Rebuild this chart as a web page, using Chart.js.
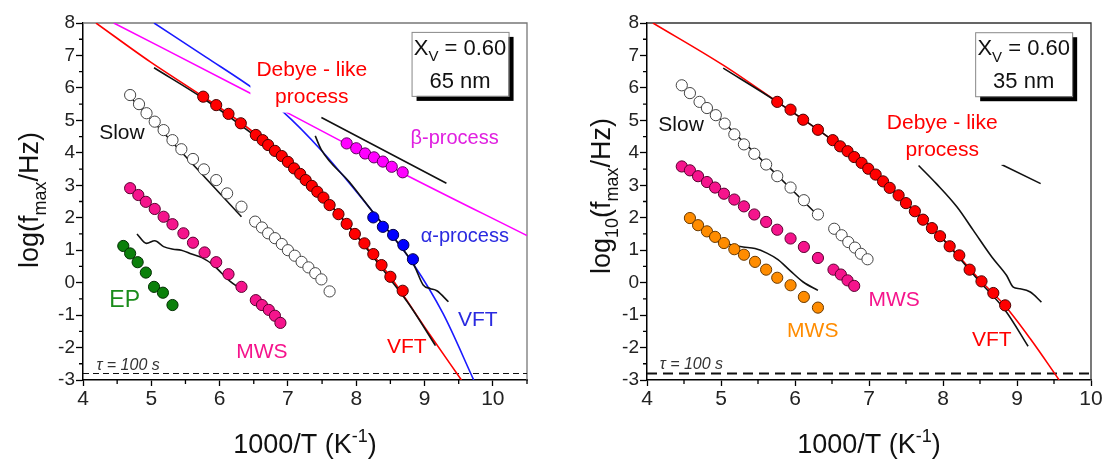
<!DOCTYPE html>
<html>
<head>
<meta charset="utf-8">
<script src="https://cdn.jsdelivr.net/npm/chart.js@4.4.0/dist/chart.umd.min.js"></script>
<style>
  body { margin: 0; background: #fff; }
  #wrap { position: relative; width: 1106px; height: 461px; }
  .panel { position: absolute; top: 0; width: 553px; height: 461px; }
  #p65 { left: 0; }
  #p35 { left: 553px; }
</style>
</head>
<body>
<div id="wrap">
  <div class="panel" id="p65"><canvas id="chart65"></canvas></div>
  <div class="panel" id="p35"><canvas id="chart35"></canvas></div>
</div>
<script>
// ---------- common ----------
const xTicks = [4, 5, 6, 7, 8, 9, 10];
const yTicks = [-3, -2, -1, 0, 1, 2, 3, 4, 5, 6, 7, 8];
const tauLevel = -2.8; // log f for tau = 100 s

// ---------- 65 nm film : measured peaks (1000/T, log f) ----------
const debyeT65 = [5.76, 5.95, 6.13, 6.31, 6.53, 6.63, 6.71, 6.81, 6.91, 7.00, 7.09, 7.18, 7.26, 7.35, 7.43, 7.52, 7.61, 7.74, 7.86, 7.98, 8.12, 8.25, 8.37, 8.50, 8.68];
const debyeF65 = [5.73, 5.47, 5.20, 4.91, 4.55, 4.39, 4.24, 4.06, 3.90, 3.72, 3.52, 3.35, 3.16, 2.98, 2.80, 2.62, 2.39, 2.11, 1.81, 1.50, 1.21, 0.88, 0.54, 0.18, -0.25];
const alphaT65 = [8.25, 8.39, 8.54, 8.69, 8.83];
const alphaF65 = [2.01, 1.72, 1.47, 1.16, 0.72];
const betaT65 = [7.86, 8.00, 8.13, 8.26, 8.39, 8.52, 8.68];
const betaF65 = [4.29, 4.14, 3.98, 3.86, 3.73, 3.57, 3.40];
const slowT65 = [4.69, 4.82, 4.93, 5.05, 5.18, 5.31, 5.44, 5.61, 5.77, 5.95, 6.11, 6.32, 6.52, 6.62, 6.71, 6.81, 6.91, 7.00, 7.10, 7.20, 7.30, 7.40, 7.49, 7.61];
const slowF65 = [5.78, 5.50, 5.22, 4.96, 4.70, 4.39, 4.11, 3.81, 3.49, 3.16, 2.75, 2.34, 1.88, 1.70, 1.52, 1.37, 1.19, 1.00, 0.83, 0.64, 0.47, 0.29, 0.10, -0.27];
const mwsT65 = [4.69, 4.81, 4.92, 5.05, 5.18, 5.31, 5.47, 5.61, 5.78, 5.95, 6.13, 6.32, 6.53, 6.62, 6.72, 6.81, 6.89];
const mwsF65 = [2.91, 2.70, 2.49, 2.27, 2.03, 1.80, 1.52, 1.23, 0.93, 0.63, 0.26, -0.13, -0.54, -0.69, -0.84, -1.02, -1.24];
const epT65 = [4.59, 4.69, 4.80, 4.92, 5.04, 5.17, 5.31];
const epF65 = [1.13, 0.90, 0.63, 0.31, -0.13, -0.31, -0.69];

// 65 nm : VFT / Arrhenius curves
const vftDebyeT65 = [4.19, 4.98, 5.71, 6.30, 6.90, 7.50, 8.00, 8.50, 9.03, 9.54];
const vftDebyeF65 = [8.00, 6.81, 5.80, 4.95, 3.92, 2.68, 1.47, 0.18, -1.46, -3.00];
const vftAlphaT65 = [5.04, 5.80, 6.52, 6.91, 7.50, 8.22, 8.83, 9.27, 9.72];
const vftAlphaF65 = [8.00, 6.95, 5.94, 5.30, 4.05, 2.24, 0.59, -0.95, -3.00];
const arrBetaT65 = [4.45, 6.52, 6.96, 8.70, 10.5];
const arrBetaF65 = [8.00, 5.76, 5.27, 3.35, 1.45];

// 65 nm : black reference lines
const refDebyeT65 = [5.04, 5.80, 6.50, 7.00, 7.50, 8.00, 8.50, 8.80, 9.16];
const refDebyeF65 = [6.62, 5.62, 4.55, 3.72, 2.68, 1.45, 0.10, -0.75, -1.94];
const refAlphaT65 = [7.40, 7.49, 7.90, 8.30, 8.60, 8.85, 8.98, 9.08, 9.18, 9.35];
const refAlphaF65 = [4.52, 4.09, 3.10, 2.02, 1.25, 0.52, -0.07, -0.18, -0.25, -0.59];
const refBetaT65 = [7.49, 9.32];
const refBetaF65 = [5.09, 3.06];
const refSlowT65 = [4.69, 6.32];
const refSlowF65 = [5.73, 2.03];
const refMwsT65 = [4.79, 4.93, 5.05, 5.18, 5.32, 5.44, 5.59, 5.74, 5.91, 6.03, 6.15, 6.30];
const refMwsF65 = [1.50, 1.21, 1.29, 1.11, 1.03, 1.00, 0.88, 0.77, 0.54, 0.29, 0.05, -0.18];

// ---------- 35 nm film ----------
const debyeT35 = [5.76, 5.94, 6.11, 6.31, 6.51, 6.61, 6.71, 6.80, 6.90, 6.99, 7.09, 7.19, 7.28, 7.40, 7.50, 7.62, 7.73, 7.85, 7.96, 8.09, 8.22, 8.36, 8.52, 8.68, 8.84];
const debyeF35 = [5.57, 5.33, 5.02, 4.71, 4.39, 4.20, 4.05, 3.87, 3.69, 3.51, 3.33, 3.12, 2.92, 2.69, 2.45, 2.20, 1.94, 1.68, 1.43, 1.12, 0.84, 0.40, 0.04, -0.32, -0.70];
const slowT35 = [4.47, 4.58, 4.71, 4.81, 4.93, 5.05, 5.18, 5.31, 5.45, 5.61, 5.76, 5.94, 6.12, 6.31, 6.53, 6.63, 6.72, 6.81, 6.89, 6.98];
const slowF35 = [6.08, 5.84, 5.57, 5.38, 5.16, 4.90, 4.57, 4.26, 3.97, 3.64, 3.28, 2.93, 2.54, 2.10, 1.66, 1.46, 1.25, 1.08, 0.89, 0.72];
const mwsT35 = [4.47, 4.58, 4.69, 4.81, 4.92, 5.04, 5.18, 5.31, 5.45, 5.61, 5.76, 5.94, 6.12, 6.31, 6.52, 6.62, 6.71, 6.80];
const mwsF35 = [3.58, 3.46, 3.28, 3.10, 2.93, 2.74, 2.56, 2.35, 2.10, 1.87, 1.63, 1.36, 1.10, 0.76, 0.40, 0.25, 0.07, -0.10];
const mws2T35 = [4.58, 4.69, 4.81, 4.92, 5.04, 5.18, 5.31, 5.46, 5.61, 5.76, 5.94, 6.12, 6.31];
const mws2F35 = [1.99, 1.77, 1.58, 1.41, 1.22, 1.03, 0.86, 0.64, 0.40, 0.15, -0.08, -0.44, -0.77];

const vftDebyeT35 = [4.08, 5.03, 5.76, 6.50, 7.00, 7.50, 8.00, 8.50, 8.84, 9.18, 9.57];
const vftDebyeF35 = [8.00, 6.70, 5.57, 4.40, 3.50, 2.45, 1.35, 0.08, -0.72, -1.73, -3.00];

const refDebyeT35 = [5.03, 5.76, 6.50, 7.00, 7.50, 8.00, 8.50, 8.84, 9.15];
const refDebyeF35 = [6.61, 5.57, 4.40, 3.50, 2.45, 1.33, 0.02, -0.85, -1.96];
const refAlphaT35 = [7.67, 7.91, 8.19, 8.41, 8.66, 8.86, 8.95, 9.04, 9.18, 9.33];
const refAlphaF35 = [3.61, 3.05, 2.33, 1.61, 0.79, 0.22, -0.14, -0.19, -0.29, -0.60];
const refBetaT35 = [8.79, 9.32];
const refBetaF35 = [3.64, 3.05];
const refSlowT35 = [4.69, 6.31];
const refSlowF35 = [5.72, 2.07];
const refMwsT35 = [4.81, 4.92, 5.05, 5.17, 5.30, 5.46, 5.62, 5.77, 5.93, 6.11, 6.31];
const refMwsF35 = [1.48, 1.30, 1.22, 1.15, 1.10, 1.05, 0.91, 0.71, 0.38, 0.02, -0.24];

// ---------- helpers ----------
const FONT = '"Liberation Sans", Arial, sans-serif';
const RED = '#ff0000', PINK = '#f5148c', GREEN = '#0b800b', BLUE = '#0000ff',
      MAGENTA = '#ff00ff', ORANGE = '#ff8c00', INK = '#111';

const pts = (xs, ys) => xs.map((x, i) => ({ x, y: ys[i] }));

function marks(xs, ys, fill, edge) {
  return {
    data: pts(xs, ys), showLine: false, order: 1,
    pointRadius: 5.6, pointBackgroundColor: fill, pointBorderColor: edge, pointBorderWidth: 1
  };
}

function curve(xs, ys, color, width, dash) {
  return {
    data: pts(xs, ys), showLine: true, order: 2, pointRadius: 0, fill: false,
    borderColor: color, borderWidth: width || 1.6, borderDash: dash || [],
    cubicInterpolationMode: 'monotone'
  };
}

// draws text made of [text, 'sub'|'sup'] pieces, centred on x, baseline y
function drawRich(ctx, parts, x, y, size, color) {
  const small = Math.round(size * 0.66);
  let total = 0;
  const widths = parts.map(([t, k]) => {
    ctx.font = (k ? small : size) + 'px ' + FONT;
    const w = ctx.measureText(t).width;
    total += w;
    return w;
  });
  let cx = x - total / 2;
  ctx.fillStyle = color;
  ctx.textAlign = 'left';
  ctx.textBaseline = 'alphabetic';
  parts.forEach(([t, k], i) => {
    ctx.font = (k ? small : size) + 'px ' + FONT;
    const dy = k === 'sub' ? size * 0.3 : k === 'sup' ? -size * 0.4 : 0;
    ctx.fillText(t, cx, y + dy);
    cx += widths[i];
  });
}

function figurePlugin(cfg) {
  return {
    id: 'figure',
    beforeDatasetsDraw(chart) {
      const { ctx, chartArea: a } = chart;
      ctx.save();
      ctx.strokeStyle = cfg.frameColor;
      ctx.lineWidth = 1.3;
      ctx.beginPath();
      ctx.moveTo(a.left, a.top);
      ctx.lineTo(a.right, a.top);
      ctx.lineTo(a.right, a.bottom);
      ctx.stroke();
      ctx.restore();
    },
    afterDatasetsDraw(chart) {
      const { ctx } = chart;
      const xs = chart.scales.x, ys = chart.scales.y;
      ctx.save();
      cfg.notes.forEach(n => {
        const px = xs.getPixelForValue(n.x), py = ys.getPixelForValue(n.y);
        ctx.font = (n.italic ? 'italic ' : '') + n.size + 'px ' + FONT;
        const lh = n.size * 1.29;
        if (n.bg) {
          const w = Math.max(...n.lines.map(t => ctx.measureText(t).width)) + 12;
          const h = n.lines.length * lh + 3;
          ctx.fillStyle = '#fff';
          ctx.fillRect(px - w / 2, py - h / 2, w, h);
        }
        ctx.fillStyle = n.color;
        ctx.textAlign = 'center';
        ctx.textBaseline = 'middle';
        n.lines.forEach((t, i) => ctx.fillText(t, px, py + (i - (n.lines.length - 1) / 2) * lh));
      });

      // composition / thickness box with drop shadow
      const b = cfg.box;
      const bx = xs.getPixelForValue(b.x) - 48.5, by = ys.getPixelForValue(b.y) - 32;
      ctx.fillStyle = '#000';
      ctx.fillRect(bx + 5, by + 5, 97, 64);
      ctx.fillStyle = '#fff';
      ctx.fillRect(bx, by, 97, 64);
      ctx.strokeStyle = '#888';
      ctx.lineWidth = 1;
      ctx.strokeRect(bx + 0.5, by + 0.5, 97, 64);
      drawRich(ctx, [['X'], ['V', 'sub'], [' = 0.60']], bx + 48.5, by + 23, 22, INK);
      drawRich(ctx, [[b.label]], bx + 48.5, by + 56, 22, INK);
      ctx.restore();
    },
    afterDraw(chart) {
      const { ctx, chartArea: a } = chart;
      const xs = chart.scales.x, ys = chart.scales.y;
      ctx.save();
      // minor ticks
      ctx.strokeStyle = '#000';
      ctx.lineWidth = 1.3;
      ctx.beginPath();
      for (let i = 9; i <= cfg.xMax * 2; i += 2) {
        const p = xs.getPixelForValue(i / 2);
        ctx.moveTo(p, a.bottom);
        ctx.lineTo(p, a.bottom + 4);
      }
      for (let i = -5; i < 16; i += 2) {
        const p = ys.getPixelForValue(i / 2);
        ctx.moveTo(a.left, p);
        ctx.lineTo(a.left - 4, p);
      }
      ctx.stroke();

      // axis titles
      drawRich(ctx, [['1000/T (K'], ['-1', 'sup'], [')']], (a.left + a.right) / 2, 453, 27, INK);
      ctx.translate(cfg.yTitleX, cfg.yTitleY);
      ctx.rotate(-Math.PI / 2);
      drawRich(ctx, cfg.yTitle, 0, 0, 27, INK);
      ctx.restore();
    }
  };
}

function buildPanel(id, cfg) {
  return new Chart(document.getElementById(id), {
    type: 'line',
    data: { datasets: cfg.datasets },
    options: {
      animation: false,
      responsive: true,
      maintainAspectRatio: false,
      devicePixelRatio: 1,
      layout: { padding: { top: 23, right: cfg.padRight, left: 0, bottom: 0 } },
      plugins: { legend: { display: false }, tooltip: { enabled: false } },
      scales: {
        x: {
          type: 'linear', min: 4, max: cfg.xMax,
          afterBuildTicks: s => { s.ticks = xTicks.map(v => ({ value: v })); },
          afterFit: s => { s.height = 81; },
          grid: { drawOnChartArea: false, tickLength: 6, tickColor: '#000', tickWidth: 1.3 },
          border: { color: '#000', width: 1.5 },
          ticks: { color: '#222', padding: 1, maxRotation: 0, font: { family: FONT, size: 21 } }
        },
        y: {
          type: 'linear', min: -3, max: 8,
          afterBuildTicks: s => { s.ticks = yTicks.map(v => ({ value: v })); },
          afterFit: s => { s.width = cfg.yWidth; },
          grid: { drawOnChartArea: false, tickLength: 7, tickColor: '#000', tickWidth: 1.3 },
          border: { color: '#000', width: 1.5 },
          ticks: { color: '#222', padding: 1, font: { family: FONT, size: 19 } }
        }
      }
    },
    plugins: [figurePlugin(cfg)]
  });
}

// ---------- left panel: 65 nm ----------
buildPanel('chart65', {
  xMax: 10.5, padRight: 26, yWidth: 83, frameColor: '#777',
  yTitle: [['log(f'], ['max', 'sub'], ['/Hz)']], yTitleX: 38, yTitleY: 200,
  box: { x: 9.52, y: 6.74, label: '65 nm' },
  datasets: [
    marks(debyeT65, debyeF65, RED, '#4a0000'),
    marks(alphaT65, alphaF65, BLUE, '#00004a'),
    marks(betaT65, betaF65, MAGENTA, '#5a005a'),
    marks(slowT65, slowF65, '#fff', '#444'),
    marks(mwsT65, mwsF65, PINK, '#5a0030'),
    marks(epT65, epF65, GREEN, '#033003'),
    curve(refDebyeT65, refDebyeF65, INK),
    curve(refAlphaT65, refAlphaF65, INK),
    curve(refBetaT65, refBetaF65, INK),
    curve(refSlowT65, refSlowF65, INK),
    curve(refMwsT65, refMwsF65, INK),
    curve(vftDebyeT65, vftDebyeF65, RED),
    curve(vftAlphaT65, vftAlphaF65, '#1a1aff'),
    curve(arrBetaT65, arrBetaF65, MAGENTA),
    curve([4, 10.5], [tauLevel, tauLevel], INK, 1.1, [6, 4])
  ],
  notes: [
    { x: 7.35, y: 6.12, lines: ['Debye - like', 'process'], color: RED, size: 21, bg: true },
    { x: 4.57, y: 4.61, lines: ['Slow'], color: INK, size: 21 },
    { x: 9.44, y: 4.43, lines: ['\u03b2-process'], color: '#e020e0', size: 20 },
    { x: 9.59, y: 1.41, lines: ['\u03b1-process'], color: '#2a2ae0', size: 20 },
    { x: 9.78, y: -1.15, lines: ['VFT'], color: '#2a2ae0', size: 21 },
    { x: 8.74, y: -1.98, lines: ['VFT'], color: RED, size: 21 },
    { x: 6.62, y: -2.14, lines: ['MWS'], color: PINK, size: 21 },
    { x: 4.61, y: -0.54, lines: ['EP'], color: '#1a8c1a', size: 23 },
    { x: 4.66, y: -2.55, lines: ['\u03c4 = 100 s'], color: '#333', size: 16, italic: true }
  ]
});

// ---------- right panel: 35 nm ----------
buildPanel('chart35', {
  xMax: 10, padRight: 15, yWidth: 94, frameColor: '#333',
  yTitle: [['log'], ['10', 'sub'], ['(f'], ['max', 'sub'], ['/Hz)']], yTitleX: 57, yTitleY: 196,
  box: { x: 9.09, y: 6.73, label: '35 nm' },
  datasets: [
    marks(debyeT35, debyeF35, RED, '#4a0000'),
    marks(slowT35, slowF35, '#fff', '#444'),
    marks(mwsT35, mwsF35, PINK, '#5a0030'),
    marks(mws2T35, mws2F35, ORANGE, '#6a3a00'),
    curve(refDebyeT35, refDebyeF35, INK),
    curve(refAlphaT35, refAlphaF35, INK),
    curve(refBetaT35, refBetaF35, INK),
    curve(refSlowT35, refSlowF35, INK),
    curve(refMwsT35, refMwsF35, INK),
    curve(vftDebyeT35, vftDebyeF35, RED),
    curve([4, 10], [tauLevel, tauLevel], INK, 2, [10, 6])
  ],
  notes: [
    { x: 7.99, y: 4.51, lines: ['Debye - like', 'process'], color: RED, size: 21, bg: true },
    { x: 4.46, y: 4.85, lines: ['Slow'], color: INK, size: 21 },
    { x: 7.34, y: -0.53, lines: ['MWS'], color: PINK, size: 21 },
    { x: 6.24, y: -1.50, lines: ['MWS'], color: ORANGE, size: 21 },
    { x: 8.66, y: -1.76, lines: ['VFT'], color: RED, size: 21 },
    { x: 4.60, y: -2.53, lines: ['\u03c4 = 100 s'], color: '#333', size: 16, italic: true }
  ]
});
</script>
</body>
</html>
